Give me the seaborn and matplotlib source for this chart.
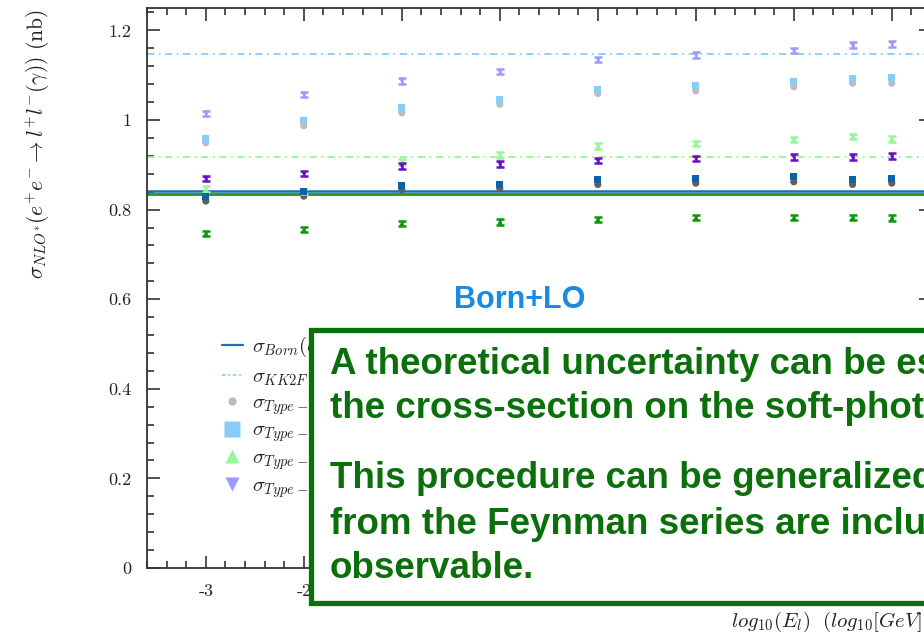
import matplotlib
matplotlib.use("Agg")
import matplotlib.pyplot as plt
from matplotlib.lines import Line2D
from matplotlib.patches import Rectangle
from matplotlib.ticker import MultipleLocator
import seaborn as sns

# log10 of the photon energy cut (GeV)
energies = [-3, -2, -1, 0, 1, 2, 3, 3.6, 4]

# cross sections (nb), first set
type_1 = [0.949, 0.987, 1.016, 1.035, 1.059, 1.065, 1.074, 1.082, 1.082]
type_2 = [0.959, 0.998, 1.027, 1.046, 1.069, 1.077, 1.086, 1.093, 1.094]
type_3 = [0.846, 0.840, 0.906, 0.922, 0.942, 0.948, 0.957, 0.963, 0.958]
type_4 = [1.015, 1.057, 1.087, 1.108, 1.135, 1.145, 1.155, 1.167, 1.170]

# cross sections (nb), second set
type_1b = [0.819, 0.830, 0.844, 0.847, 0.856, 0.859, 0.862, 0.856, 0.859]
type_2b = [0.829, 0.841, 0.854, 0.857, 0.867, 0.869, 0.873, 0.867, 0.870]
type_3b = [0.746, 0.755, 0.769, 0.772, 0.778, 0.782, 0.782, 0.782, 0.781]
type_4b = [0.869, 0.880, 0.897, 0.902, 0.909, 0.914, 0.917, 0.917, 0.920]

# reference cross sections (nb)
sigma_born = 0.8386
sigma_born_b = 0.834
sigma_kk2f = 1.147
sigma_kk2f_b = 0.918

y_ticks = [0, 0.2, 0.4, 0.6, 0.8, 1.0, 1.2]
y_tick_labels = ["0", "0.2", "0.4", "0.6", "0.8", "1", "1.2"]
x_ticks = [-3, -2, -1, 0, 1, 2, 3, 4]
x_tick_labels = ["-3", "-2", "-1", "0", "1", "2", "3", "4"]

box_lines = [
    "A theoretical uncertainty can be estimated",
    "the cross-section on the soft-photon",
    "This procedure can be generalized",
    "from the Feynman series are included",
    "observable.",
]

sns.set_theme(style="ticks")
plt.rcParams.update({
    "mathtext.fontset": "cm",
    "font.family": ["cmr10", "DejaVu Serif"],
    "axes.unicode_minus": False,
})

W, H = 924, 637
fig = plt.figure(figsize=(W / 100, H / 100), dpi=100)
ax = fig.add_axes([147 / W, 1 - 568 / H, (931 - 147) / W, (568 - 8) / H])

c_gray, c_lblue, c_lgreen, c_lav = "#bdbdbd", "#87cdfa", "#96f796", "#9b9bff"
c_dgray, c_dblue, c_dgreen, c_purple = "#5e5e5e", "#0a62aa", "#079a07", "#6a0cc8"
c_born, c_born_b = "#1f6cb8", "#1a9a1a"

dashdot = (0, (4, 2.5, 1, 2.5))

# reference lines
ax.axhline(sigma_born_b, color=c_born_b, lw=2.0, zorder=2)
ax.axhline(sigma_born + 0.002, color=c_born, lw=1.8, zorder=2)
ax.axhline(sigma_kk2f, color=c_lblue, lw=1.3, ls=dashdot, zorder=2)
ax.axhline(sigma_kk2f_b, color=c_lgreen, lw=1.3, ls=dashdot, zorder=2)

# square / circle series
for vals, col, mk, z in [(type_1, c_gray, "o", 3), (type_2, c_lblue, "s", 4),
                         (type_1b, c_dgray, "o", 3), (type_2b, c_dblue, "s", 4)]:
    sns.scatterplot(x=energies, y=vals, marker=mk, color=col, s=26,
                    edgecolor="none", linewidth=0, ax=ax, zorder=z)

# triangle series with error bars
for vals, col, mk in [(type_3, c_lgreen, "^"), (type_4, c_lav, "v"),
                      (type_3b, c_dgreen, "^"), (type_4b, c_purple, "v")]:
    ax.errorbar(energies, vals, yerr=0.006, fmt="none", ecolor=col,
                elinewidth=1.8, capsize=2.6, capthick=1.8, zorder=3)
    sns.scatterplot(x=energies, y=vals, marker=mk, color=col, s=14,
                    edgecolor="none", linewidth=0, ax=ax, zorder=3)

ax.set_xlim(-3.6, 4.4)
ax.set_ylim(0, 1.25)
ax.set_xticks(x_ticks, labels=x_tick_labels)
ax.set_yticks(y_ticks, labels=y_tick_labels)
ax.xaxis.set_minor_locator(MultipleLocator(0.2))
ax.yaxis.set_minor_locator(MultipleLocator(0.04))
ax.tick_params(which="both", direction="in", top=True, right=True,
               color="#333333", width=1.2, labelsize=13, labelcolor="#222222")
ax.tick_params(which="major", length=9)
ax.tick_params(which="minor", length=5)
ax.tick_params(axis="y", pad=11)
ax.tick_params(axis="x", pad=11)
for s in ax.spines.values():
    s.set_linewidth(1.3)
    s.set_color("#333333")

ax.set_ylabel(r"$\sigma_{NLO^{*}}(e^{+}e^{-}\rightarrow l^{+}l^{-}(\gamma))\ (\mathrm{nb})$",
              fontsize=15.5, color="#222222")
ax.yaxis.set_label_coords((52 - 147) / 784, (568 - 144) / 560)
ax.set_xlabel(r"$log_{10}(E_{l})\ \ (log_{10}[GeV])$", fontsize=15, color="#222222")
ax.xaxis.set_label_coords(1.0, (568 - 610) / 560)
ax.xaxis.label.set_horizontalalignment("right")

handles = [
    Line2D([], [], color=c_born, lw=1.6),
    Line2D([], [], color=c_lblue, lw=1.3, ls=(0, (2, 1.5, 1, 1.5))),
    Line2D([], [], ls="none", marker="o", color=c_gray, ms=6, mec="none"),
    Line2D([], [], ls="none", marker="s", color=c_lblue, ms=11, mec="none"),
    Line2D([], [], ls="none", marker="^", color=c_lgreen, ms=10, mec="none"),
    Line2D([], [], ls="none", marker="v", color=c_lav, ms=10, mec="none"),
]
labels = [
    r"$\sigma_{Born}(e^{+}e^{-}\rightarrow l^{+}l^{-})$",
    r"$\sigma_{KK2F}(e^{+}e^{-}\rightarrow l^{+}l^{-}(\gamma))$",
    r"$\sigma_{Type-I}$",
    r"$\sigma_{Type-II}$",
    r"$\sigma_{Type-III}$",
    r"$\sigma_{Type-IV}$",
]
ax.legend(handles, labels, loc="upper left",
          bbox_to_anchor=((222 - 147) / 784, (568 - 334) / 560),
          frameon=False, fontsize=15, handlelength=1.0, handletextpad=0.45,
          labelspacing=0.22, borderaxespad=0, borderpad=0)

# slide annotation on top of the figure
green = "#0b700b"
fig.add_artist(Rectangle((311 / W, 1 - 603 / H), 0.9, (603 - 330) / H,
                         transform=fig.transFigure, facecolor="white",
                         edgecolor=green, lw=3.8, zorder=10))
line_y = [364, 409, 479, 524, 568]
for txt, yy in zip(box_lines, line_y):
    fig.text(330 / W, 1 - yy / H, txt, fontsize=26.5, fontweight="bold",
             family="Liberation Sans", color=green, va="center", ha="left",
             zorder=11)
fig.text(520 / W, 1 - 300 / H, "Born+LO", fontsize=22, fontweight="bold",
         family="Liberation Sans", color="#1b8ae0", va="center", ha="center",
         zorder=11)

fig.savefig("out.png", dpi=100)
